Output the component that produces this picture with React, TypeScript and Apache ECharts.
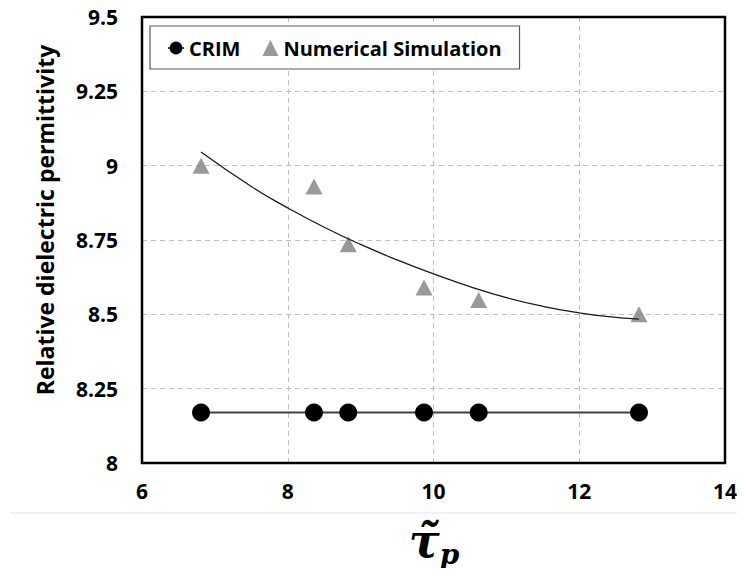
import React, { useEffect, useRef } from "react";
import * as echarts from "echarts";

// Normalised pore time constant values
const tauValues = [6.81, 8.36, 8.83, 9.87, 10.62, 12.82];
// CRIM model permittivity (constant)
const crimValues = [8.17, 8.17, 8.17, 8.17, 8.17, 8.17];
// Numerical simulation permittivity
const simValues = [9.0, 8.93, 8.736, 8.59, 8.548, 8.5];
// Polynomial trend line through the simulation results
const trendX = [6.81, 7.5, 8, 8.5, 9, 9.5, 10, 10.5, 11, 11.5, 12, 12.4, 12.82];
const trendY = [9.046, 8.93, 8.858, 8.793, 8.735, 8.683, 8.636, 8.593, 8.556, 8.527, 8.505, 8.492, 8.484];

const yTicks = { min: 8, max: 9.5, interval: 0.25 };
const xTicks = { min: 6, max: 14, interval: 2 };

const yTitle = "Relative dielectric permittivity";

const FONT = "'Open Sans', Lato, sans-serif";

export default function App() {
  const ref = useRef<HTMLDivElement>(null);

  useEffect(() => {
    if (!ref.current) return;
    const chart = echarts.init(ref.current, null, { renderer: "svg" });
    const zip = (xs: number[], ys: number[]) => xs.map((x, i) => [x, ys[i]]);

    const gridBox = { left: 142, top: 17, width: 583, height: 446 };

    chart.setOption({
      animation: false,
      backgroundColor: "#ffffff",
      grid: { ...gridBox, show: false },
      legend: {
        data: ["CRIM", "Numerical Simulation"],
        left: 150,
        top: 26,
        padding: [12, 18, 11, 17],
        itemGap: 22,
        itemWidth: 16,
        itemHeight: 16,
        borderColor: "#595959",
        borderWidth: 1.2,
        backgroundColor: "#ffffff",
        textStyle: {
          fontFamily: FONT,
          fontWeight: "bold",
          fontSize: 20,
          color: "#000000",
        },
      },
      xAxis: {
        type: "value",
        min: xTicks.min,
        max: xTicks.max,
        interval: xTicks.interval,
        axisLine: { show: false },
        axisTick: { show: false },
        axisLabel: {
          margin: 17,
          fontFamily: FONT,
          fontWeight: "bold",
          fontSize: 21,
          color: "#000000",
        },
        splitLine: {
          show: true,
          lineStyle: { color: "#bfbfbf", type: [5, 4], width: 1 },
        },
      },
      yAxis: {
        type: "value",
        min: yTicks.min,
        max: yTicks.max,
        interval: yTicks.interval,
        axisLine: { show: false },
        axisTick: { show: false },
        axisLabel: {
          margin: 24,
          fontFamily: FONT,
          fontWeight: "bold",
          fontSize: 21,
          color: "#000000",
        },
        splitLine: {
          show: true,
          lineStyle: { color: "#bfbfbf", type: [5, 4], width: 1 },
        },
      },
      graphic: [
        {
          type: "rect",
          shape: { x: gridBox.left, y: gridBox.top, width: gridBox.width, height: gridBox.height },
          style: { fill: "none", stroke: "#000000", lineWidth: 2.5 },
          silent: true,
          z: 100,
        },
        {
          type: "text",
          x: 45,
          y: 220,
          rotation: Math.PI / 2,
          style: {
            text: yTitle,
            align: "center",
            verticalAlign: "middle",
            fontFamily: FONT,
            fontWeight: "bold",
            fontSize: 23,
            fill: "#000000",
          },
        },
        {
          type: "line",
          shape: { x1: 10, y1: 513, x2: 745, y2: 513 },
          style: { stroke: "#e3e3e3", lineWidth: 1 },
          silent: true,
        },
        {
          type: "text",
          x: 434,
          y: 541,
          style: {
            text: "{t|τ̃}{s|p}",
            align: "center",
            verticalAlign: "middle",
            rich: {
              t: {
                fontFamily: "'DejaVu Serif', serif",
                fontStyle: "italic",
                fontWeight: "bold",
                fontSize: 46,
                fill: "#000000",
              },
              s: {
                fontFamily: "'DejaVu Serif', serif",
                fontStyle: "italic",
                fontWeight: "bold",
                fontSize: 28,
                fill: "#000000",
                padding: [26, 0, 0, 0],
              },
            },
          },
        },
      ],
      series: [
        {
          name: "CRIM",
          type: "line",
          data: zip(tauValues, crimValues),
          symbol: "circle",
          symbolSize: 18,
          itemStyle: { color: "#000000" },
          lineStyle: { color: "#404040", width: 2 },
          z: 3,
        },
        {
          name: "Numerical Simulation",
          type: "scatter",
          data: zip(tauValues, simValues),
          symbol: "triangle",
          symbolSize: [17, 16],
          itemStyle: { color: "#808080" },
          z: 3,
        },
        {
          name: "Trend",
          type: "line",
          data: zip(trendX, trendY),
          smooth: true,
          showSymbol: false,
          symbol: "none",
          lineStyle: { color: "#1a1a1a", width: 1.3 },
          z: 4,
        },
      ],
    });

    return () => chart.dispose();
  }, []);

  return <div ref={ref} style={{ width: 745, height: 576, margin: -8 }} />;
}
